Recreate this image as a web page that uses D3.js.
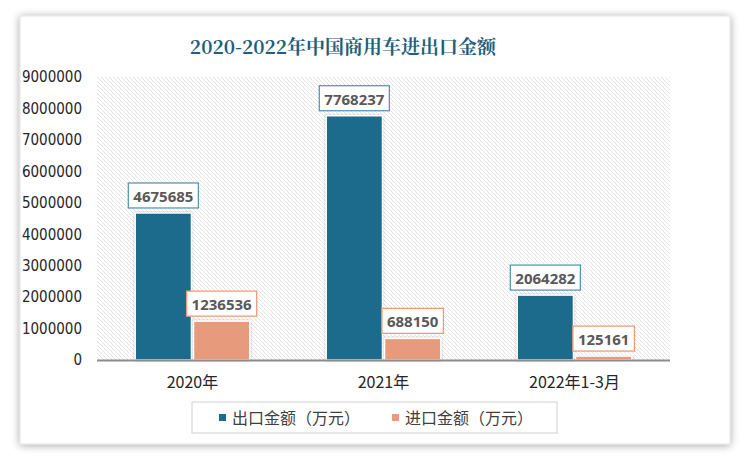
<!DOCTYPE html>
<html>
<head>
<meta charset="utf-8">
<script src="https://cdn.jsdelivr.net/npm/d3@7"></script>
<style>
  html, body { margin: 0; padding: 0; background: #fff; }
</style>
</head>
<body>
<div id="chart"></div>
<script>
// 2020-2022 中国商用车进出口金额
var categories = ["2020年", "2021年", "2022年1-3月"];
var seriesNames = ["出口金额（万元）", "进口金额（万元）"];
var exportValues = [4675685, 7768237, 2064282];
var importValues = [1236536, 688150, 125161];
var yTicks = [0, 1000000, 2000000, 3000000, 4000000, 5000000, 6000000, 7000000, 8000000, 9000000];

var colors = ["#1c6a8c", "#e89b7b"];
var width = 750, height = 461;
var plot = {left: 97, right: 670, top: 77, bottom: 360};

var svg = d3.select("#chart").append("svg")
    .attr("width", width)
    .attr("height", height);

var defs = svg.append("defs");

var shadow = defs.append("filter").attr("id", "cardShadow")
    .attr("x", "-5%").attr("y", "-5%").attr("width", "110%").attr("height", "110%");
shadow.append("feGaussianBlur").attr("in", "SourceAlpha").attr("stdDeviation", 4);
shadow.append("feOffset").attr("dx", 0).attr("dy", 1).attr("result", "blur");
shadow.append("feComponentTransfer").append("feFuncA").attr("type", "linear").attr("slope", 0.35);
var merge = shadow.append("feMerge");
merge.append("feMergeNode");
merge.append("feMergeNode").attr("in", "SourceGraphic");

var barShadow = defs.append("filter").attr("id", "barShadow")
    .attr("x", "-20%").attr("y", "-20%").attr("width", "140%").attr("height", "140%");
barShadow.append("feGaussianBlur").attr("in", "SourceAlpha").attr("stdDeviation", 1.2);
barShadow.append("feOffset").attr("dx", 0).attr("dy", 0);
barShadow.append("feComponentTransfer").append("feFuncA").attr("type", "linear").attr("slope", 0.35);
var merge2 = barShadow.append("feMerge");
merge2.append("feMergeNode");
merge2.append("feMergeNode").attr("in", "SourceGraphic");

var hatch = defs.append("pattern").attr("id", "hatch")
    .attr("patternUnits", "userSpaceOnUse")
    .attr("width", 4).attr("height", 4);
hatch.append("rect").attr("width", 4).attr("height", 4).attr("fill", "#fff");
hatch.append("path")
    .attr("d", "M-1,-1 L5,5 M-1,3 L1,5 M3,-1 L5,1")
    .attr("stroke", "#e3e3e3").attr("stroke-width", 1);

// card
svg.append("rect")
    .attr("x", 20).attr("y", 16)
    .attr("width", 710).attr("height", 428)
    .attr("fill", "#fff")
    .attr("stroke", "#e2e2e2")
    .attr("filter", "url(#cardShadow)");

// title
svg.append("text")
    .attr("x", 343).attr("y", 54)
    .attr("text-anchor", "middle")
    .attr("font-family", "'Noto Serif CJK SC', 'Noto Sans CJK SC', serif")
    .attr("font-size", 19)
    .attr("font-weight", "bold")
    .attr("fill", "#1f5f7d")
    .text("2020-2022年中国商用车进出口金额");

// plot background
svg.append("rect")
    .attr("x", plot.left).attr("y", plot.top)
    .attr("width", plot.right - plot.left).attr("height", plot.bottom - plot.top)
    .attr("fill", "url(#hatch)");

var x0 = d3.scaleBand().domain(categories)
    .range([plot.left, plot.right])
    .paddingInner(0.4).paddingOuter(0.2);
var x1 = d3.scaleBand().domain([0, 1])
    .range([0, x0.bandwidth()])
    .paddingInner(0.035);
var y = d3.scaleLinear().domain([0, 9000000]).range([plot.bottom, plot.top]);

// y axis
var yAxis = svg.append("g")
    .attr("transform", "translate(" + (plot.left - 15) + ",0)")
    .call(d3.axisLeft(y).tickValues(yTicks).tickSize(0).tickPadding(0).tickFormat(d3.format("d")));
yAxis.select(".domain").remove();
yAxis.selectAll("text")
    .attr("font-family", "'Liberation Sans Narrow', 'DejaVu Sans Condensed', sans-serif")
    .attr("font-size", 15)
    .attr("fill", "#262626");

// bars
var rows = categories.map(function(c, i) {
    return {cat: c, values: [exportValues[i], importValues[i]]};
});

var groups = svg.selectAll(".group")
    .data(rows).enter().append("g")
    .attr("class", "group")
    .attr("transform", function(d) { return "translate(" + x0(d.cat) + ",0)"; });

groups.selectAll("rect.bar")
    .data(function(d) { return d.values.map(function(v, k) { return {k: k, v: v}; }); })
    .enter().append("rect")
    .attr("class", "bar")
    .attr("x", function(d) { return x1(d.k); })
    .attr("y", function(d) { return y(d.v); })
    .attr("width", x1.bandwidth())
    .attr("height", function(d) { return y(0) - y(d.v); })
    .attr("fill", function(d) { return colors[d.k]; })
    .attr("stroke", "#fff")
    .attr("stroke-width", 1.5)
    .attr("filter", "url(#barShadow)");

// x axis line
svg.append("line")
    .attr("x1", plot.left).attr("x2", plot.right)
    .attr("y1", plot.bottom + 0.5).attr("y2", plot.bottom + 0.5)
    .attr("stroke", "#8c8c8c").attr("stroke-width", 2);

// category labels
svg.selectAll(".catLabel")
    .data(categories).enter().append("text")
    .attr("class", "catLabel")
    .attr("x", function(d) { return x0(d) + x0.bandwidth() / 2; })
    .attr("y", 388)
    .attr("text-anchor", "middle")
    .attr("font-family", "'Noto Sans CJK SC', sans-serif")
    .attr("font-size", 16)
    .attr("fill", "#262626")
    .text(function(d) { return d; });

// data labels
groups.each(function(d) {
    var g = d3.select(this);
    d.values.forEach(function(v, k) {
        var cx = x1(k) + x1.bandwidth() / 2;
        var lab = g.append("g");
        var t = lab.append("text")
            .attr("x", cx)
            .attr("y", y(v) - 11)
            .attr("text-anchor", "middle")
            .attr("font-family", "'Open Sans', sans-serif")
            .attr("font-weight", "bold")
            .attr("font-size", 15)
            .attr("fill", "#595959")
            .text(v);
        var w = t.node().getComputedTextLength() + 10;
        lab.insert("rect", "text")
            .attr("x", cx - w / 2)
            .attr("y", y(v) - 30)
            .attr("width", w)
            .attr("height", 25)
            .attr("fill", "#fff")
            .attr("stroke", k === 0 ? "#5b98b3" : "#ee9c78")
            .attr("stroke-width", 1.3);
    });
});

// legend
var legend = svg.append("g");
legend.append("rect")
    .attr("x", 192).attr("y", 402)
    .attr("width", 365).attr("height", 31)
    .attr("fill", "#fff")
    .attr("stroke", "#d0d0d0");
var legendX = [219, 392];
seriesNames.forEach(function(name, i) {
    legend.append("rect")
        .attr("x", legendX[i]).attr("y", 414)
        .attr("width", 7).attr("height", 7)
        .attr("fill", colors[i]);
    legend.append("text")
        .attr("x", legendX[i] + 13).attr("y", 423.5)
        .attr("font-family", "'Noto Sans CJK SC', sans-serif")
        .attr("font-size", 16)
        .attr("fill", "#404040")
        .text(name);
});
</script>
</body>
</html>
